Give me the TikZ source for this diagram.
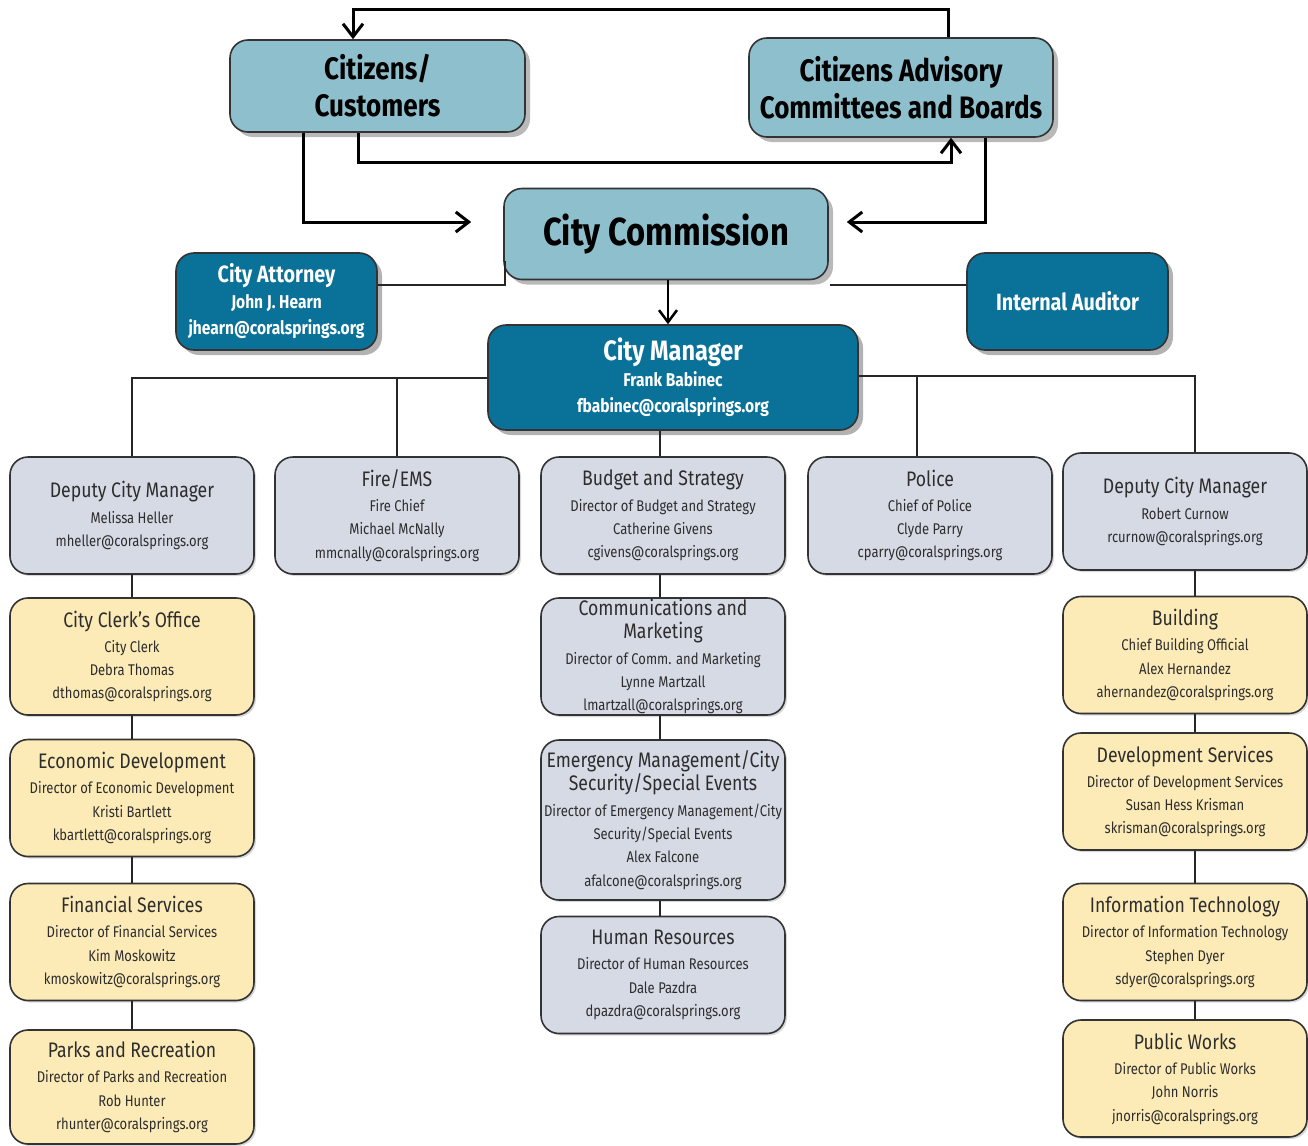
\documentclass[tikz,border=0pt]{standalone}
\usepackage{fontspec}
\setmainfont[FakeStretch=0.84]{Fira Sans}
\usetikzlibrary{arrows.meta,shadows,positioning}
\definecolor{tealLight}{RGB}{142,191,205}
\definecolor{tealDark}{RGB}{10,113,153}
\definecolor{deptGray}{RGB}{214,218,229}
\definecolor{deptYellow}{RGB}{252,235,183}
\definecolor{txtGray}{RGB}{45,45,45}
\newcommand{\hdl}[1]{{\fontsize{21}{25}\selectfont #1}}
\newcommand{\hd}[1]{\hdl{#1}\\[2pt]}
\tikzset{
  orgbox/.style={draw=black!80, line width=1.6pt, rounded corners=18pt, align=center, inner sep=0pt},
  topbox/.style={orgbox, fill=tealLight, text=black, font=\bfseries\fontsize{31}{37}\selectfont,
    drop shadow={shadow xshift=5pt, shadow yshift=-5pt, opacity=0.55}},
  bluebox/.style={orgbox, fill=tealDark, text=white, font=\bfseries\fontsize{18.5}{26}\selectfont,
    drop shadow={shadow xshift=5pt, shadow yshift=-5pt, opacity=0.6}},
  deptbox/.style={orgbox, minimum width=244, minimum height=117, text=txtGray,
    font=\fontsize{15.5}{23.3}\selectfont,
    drop shadow={shadow xshift=2pt, shadow yshift=-2pt, opacity=0.3}},
  graybox/.style={deptbox, fill=deptGray},
  yellowbox/.style={deptbox, fill=deptYellow},
  flow/.style={line width=3pt, -{Straight Barb[length=13pt,width=20pt]}},
  orgline/.style={line width=2pt, draw=black!85}
}
\begin{document}
\begin{tikzpicture}[x=1pt,y=-1pt]
\useasboundingbox[fill=white] (0,0) rectangle (1308,1145);
% top level
\node[topbox, minimum width=295, minimum height=92] (cit) at (377.5,86) {Citizens/\\Customers};
\node[topbox, minimum width=304, minimum height=99] (adv) at (901,87.5) {Citizens Advisory\\Committees and Boards};
\node[topbox, minimum width=324, minimum height=91, font=\bfseries\fontsize{39}{46}\selectfont] (comm) at (666,234) {City Commission};
\node[bluebox, minimum width=201, minimum height=97] (att) at (276.5,301.5)
  {{\fontsize{23.5}{26}\selectfont City Attorney}\\John J. Hearn\\jhearn@coralsprings.org};
\node[bluebox, minimum width=201, minimum height=97, font=\bfseries\fontsize{23.5}{26}\selectfont] (aud) at (1067.5,301.5) {Internal Auditor};
\node[bluebox, minimum width=370, minimum height=105] (mgr) at (673,377.5)
  {{\fontsize{28}{30}\selectfont City Manager}\\Frank Babinec\\fbabinec@coralsprings.org};
% departments
\node[graybox] (dcmA) at (132,515.5) {\hd{Deputy City Manager}Melissa Heller\\mheller@coralsprings.org};
\node[graybox] (fire) at (397,515.5) {\hd{Fire/EMS}Fire Chief\\Michael McNally\\mmcnally@coralsprings.org};
\node[graybox] (bud) at (663,515.5) {\hd{Budget and Strategy}Director of Budget and Strategy\\Catherine Givens\\cgivens@coralsprings.org};
\node[graybox] (pol) at (930,515.5) {\hd{Police}Chief of Police\\Clyde Parry\\cparry@coralsprings.org};
\node[graybox] (dcmB) at (1185,511.5) {\hd{Deputy City Manager}Robert Curnow\\rcurnow@coralsprings.org};
\node[yellowbox] (clerk) at (132,656.5) {\hd{City Clerk's Office}City Clerk\\Debra Thomas\\dthomas@coralsprings.org};
\node[yellowbox] (econ) at (132,798) {\hd{Economic Development}Director of Economic Development\\Kristi Bartlett\\kbartlett@coralsprings.org};
\node[yellowbox] (fin) at (132,942) {\hd{Financial Services}Director of Financial Services\\Kim Moskowitz\\kmoskowitz@coralsprings.org};
\node[yellowbox, minimum height=114] (parks) at (132,1087) {\hd{Parks and Recreation}Director of Parks and Recreation\\Rob Hunter\\rhunter@coralsprings.org};
\node[graybox] (cmk) at (663,656.5) {\hdl{Communications and}\\\hd{Marketing}Director of Comm. and Marketing\\Lynne Martzall\\lmartzall@coralsprings.org};
\node[graybox, minimum height=160] (emg) at (663,820) {\hdl{Emergency Management/City}\\\hd{Security/Special Events}Director of Emergency Management/City\\Security/Special Events\\Alex Falcone\\afalcone@coralsprings.org};
\node[graybox] (hr) at (663,975) {\hd{Human Resources}Director of Human Resources\\Dale Pazdra\\dpazdra@coralsprings.org};
\node[yellowbox] (bldg) at (1185,655) {\hd{Building}Chief Building Official\\Alex Hernandez\\ahernandez@coralsprings.org};
\node[yellowbox] (dev) at (1185,791.5) {\hd{Development Services}Director of Development Services\\Susan Hess Krisman\\skrisman@coralsprings.org};
\node[yellowbox] (it) at (1185,942) {\hd{Information Technology}Director of Information Technology\\Stephen Dyer\\sdyer@coralsprings.org};
\node[yellowbox] (pw) at (1185,1078.5) {\hd{Public Works}Director of Public Works\\John Norris\\jnorris@coralsprings.org};
% junction points
\coordinate (topL) at (353,10);
\coordinate (topR) at (948,10);
\coordinate (midL) at (358,162);
\coordinate (midR) at (951,162);
\coordinate (lowL) at (303,222);
\coordinate (lowR) at (985,222);
\coordinate (attJ) at (505,285);
\coordinate (audJ) at (830,285);
\coordinate (mgrJ) at (668,300);
\coordinate (leftJ) at (132,378);
\coordinate (rightJ) at (1195,376);
\coordinate (polJ) at (917,376);
\coordinate (midJ) at (660,500);
% citizen loops
\draw[flow] (adv.north -| topR) -- (topR) -- (topL) -- (cit.north -| topL);
\draw[flow] (cit.south -| midL) -- (midL) -- (midR) -- (adv.south -| midR);
\draw[flow, shorten >=32pt] (cit.south -| lowL) -- (lowL) -- (lowL -| comm.west);
\draw[flow, shorten >=18pt] (adv.south -| lowR) -- (lowR) -- (lowR -| comm.east);
\draw[line width=2.5pt, -{Straight Barb[length=12pt,width=18pt]}] (comm.south -| mgrJ) -- (mgr.north -| mgrJ);
% advisors
\draw[orgline] (att.east |- attJ) -- (attJ) -- ++(0,-24);
\draw[orgline] (audJ) -- (aud.west |- audJ);
% reporting lines
\draw[orgline] (mgr.west |- leftJ) -- (leftJ) -- (dcmA.north);
\draw[orgline] (mgr.east |- rightJ) -- (rightJ) -- (rightJ |- dcmB.north);
\draw[orgline] (fire.north) -- (fire.north |- leftJ);
\draw[orgline] (polJ) -- (polJ |- pol.north);
\draw[orgline] (mgr.south -| midJ) -- (bud.north -| midJ);
\draw[orgline] (dcmA) -- (clerk) -- (econ) -- (fin) -- (parks);
\draw[orgline] (bud.south -| midJ) -- (cmk.north -| midJ) (cmk.south -| midJ) -- (emg.north -| midJ) (emg.south -| midJ) -- (hr.north -| midJ);
\draw[orgline] (dcmB.south -| rightJ) -- (bldg.north -| rightJ) (bldg.south -| rightJ) -- (dev.north -| rightJ)
  (dev.south -| rightJ) -- (it.north -| rightJ) (it.south -| rightJ) -- (pw.north -| rightJ);
\end{tikzpicture}
\end{document}
